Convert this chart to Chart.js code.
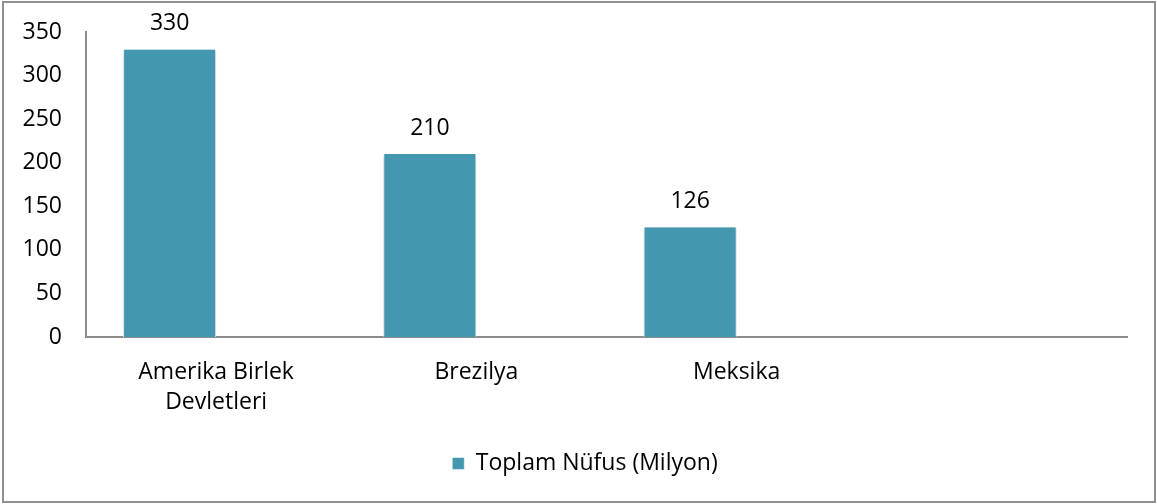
<!DOCTYPE html>
<html>
<head>
<meta charset="utf-8">
<script src="https://cdn.jsdelivr.net/npm/chart.js@4"></script>
<style>
  html, body { margin: 0; padding: 0; background: #fff; }
  #wrap { position: relative; width: 1157px; height: 504px; }
  #frame { position: absolute; left: 2px; top: 1px; width: 1150px; height: 498px; border: 2px solid #8f8f8f; pointer-events: none; }
  canvas { position: absolute; left: 0; top: 0; }
</style>
</head>
<body>
<div id="wrap">
  <canvas id="chart" width="1157" height="504"></canvas>
  <div id="frame"></div>
</div>
<script>
const categories = [['Amerika Birlek', 'Devletleri'], 'Brezilya', 'Meksika', ''];
const nufus = [330, 210, 126, null];
const bos = [null, null, null, null];
const yTicks = [0, 50, 100, 150, 200, 250, 300, 350];

const FONT = { family: '"Open Sans", sans-serif', size: 23 };
const barColor = '#4398b0';

// soft shadow around the bars
const barShadow = {
  id: 'barShadow',
  beforeDatasetsDraw(chart) {
    const c = chart.ctx;
    c.save();
    c.shadowColor = 'rgba(0,0,0,0.28)';
    c.shadowBlur = 4;
    c.shadowOffsetX = 0;
    c.shadowOffsetY = 1;
  },
  afterDatasetsDraw(chart) {
    chart.ctx.restore();
  }
};

// values above the bars
const valueLabels = {
  id: 'valueLabels',
  afterDatasetsDraw(chart) {
    const c = chart.ctx;
    const meta = chart.getDatasetMeta(0);
    c.save();
    c.font = FONT.size + 'px ' + FONT.family;
    c.fillStyle = '#000';
    c.textAlign = 'center';
    c.textBaseline = 'middle';
    meta.data.forEach((bar, i) => {
      const v = nufus[i];
      if (v == null) return;
      c.fillText(String(v), bar.x, bar.y - 26);
    });
    c.restore();
  }
};

// legend sits a bit right of the canvas centre in the original
const legendShift = {
  id: 'legendShift',
  afterLayout(chart) {
    if (chart.legend) chart.legend.left = 43;
  }
};

new Chart(document.getElementById('chart'), {
  type: 'bar',
  data: {
    labels: categories,
    datasets: [
      {
        label: 'Toplam Nüfus (Milyon)',
        data: nufus,
        backgroundColor: barColor,
        borderColor: '#ffffff',
        borderWidth: { left: 1, right: 1, top: 0, bottom: 0 },
        categoryPercentage: 0.715,
        barPercentage: 1.0
      },
      {
        label: '',
        data: bos,
        backgroundColor: barColor,
        categoryPercentage: 0.715,
        barPercentage: 1.0
      }
    ]
  },
  options: {
    responsive: false,
    animation: false,
    layout: { padding: { top: 32, right: 30, bottom: 19, left: 0 } },
    plugins: {
      tooltip: { enabled: false },
      legend: {
        position: 'bottom',
        labels: {
          color: '#000',
          font: FONT,
          boxWidth: 12,
          boxHeight: 12,
          padding: 10,
          filter: (item) => item.text !== ''
        }
      }
    },
    scales: {
      x: {
        grid: { display: false, drawTicks: false },
        border: { display: true, color: '#8c8c8c', width: 2 },
        ticks: { color: '#000', font: { ...FONT, lineHeight: 1.3 }, padding: 21, maxRotation: 0, autoSkip: false },
        afterFit(scale) { scale.height = 105; }
      },
      y: {
        min: 0,
        max: 350,
        grid: { display: false, drawTicks: false },
        border: { display: true, color: '#8c8c8c', width: 2 },
        afterBuildTicks(scale) { scale.ticks = yTicks.map(v => ({ value: v })); },
        ticks: { color: '#000', font: FONT, padding: 24 },
        afterFit(scale) {
          scale.width = 86;
          scale.paddingTop = 0;
          scale.paddingBottom = 0;
        }
      }
    }
  },
  plugins: [barShadow, valueLabels, legendShift]
});
</script>
</body>
</html>
